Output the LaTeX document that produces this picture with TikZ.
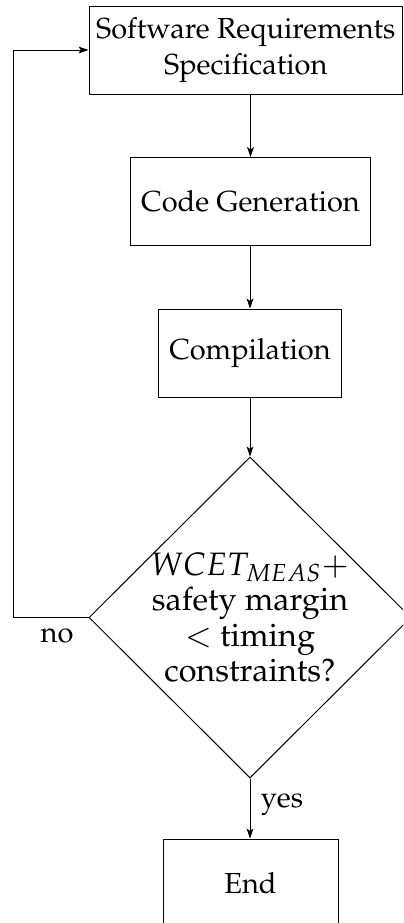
\documentclass[tikz,border=0pt]{standalone}
\usepackage[T1]{fontenc}
\usepackage{mathpazo}
\usetikzlibrary{shapes.geometric,arrows.meta}

\tikzset{
  flow/.style={line width=0.5pt},
  arr/.style={flow,-{Stealth[length=5pt,width=3.4pt,inset=1.2pt]}},
  procbox/.style={draw,flow,rectangle,align=center,minimum width=87.5pt,
    minimum height=44pt,inner xsep=5.5pt,inner ysep=3pt},
  decision/.style={draw,flow,diamond,aspect=1,align=center,inner sep=-6pt,
    minimum width=161pt,minimum height=160.5pt,
    font=\fontsize{16.2}{17.7}\selectfont},
  lab/.style={inner sep=0pt}
}

\begin{document}
\begin{tikzpicture}[x=0.5pt,y=-0.5pt,font=\fontsize{14.5}{18}\selectfont]
  % page frame, everything outside is cut away
  \clip (0,0) rectangle (403,923);

  \node[procbox,minimum width=156.75pt,inner xsep=3pt] (top) at (245.75,50)
    {Software Requirements\\Specification};
  \node[procbox] (cg)   at (250.5,201.5) {Code Generation};
  \node[procbox] (comp) at (250,353) {Compilation};
  \node[decision] (dec) at (250,617.5)
    {$WCET_{MEAS}+$\\safety margin\\$<$ timing\\constraints?};
  \node[procbox] (end)  at (250.5,883) {End};

  \node[lab] (nolab)  at (57,636) {no};
  \node[lab] (yeslab) at (282,805) {yes};

  \coordinate (loopx) at (13,0);

  \draw[arr] (top.south -| cg.north) -- (cg.north);
  \draw[arr] (cg.south -| comp.north) -- (comp.north);
  \draw[arr] (comp.south) -- (dec.north);
  \draw[arr] (dec.south) -- (dec.south |- end.north);
  \draw[arr] (dec.west) -- (loopx |- dec.west) -- (loopx |- top.west) -- (top.west);
\end{tikzpicture}
\end{document}
